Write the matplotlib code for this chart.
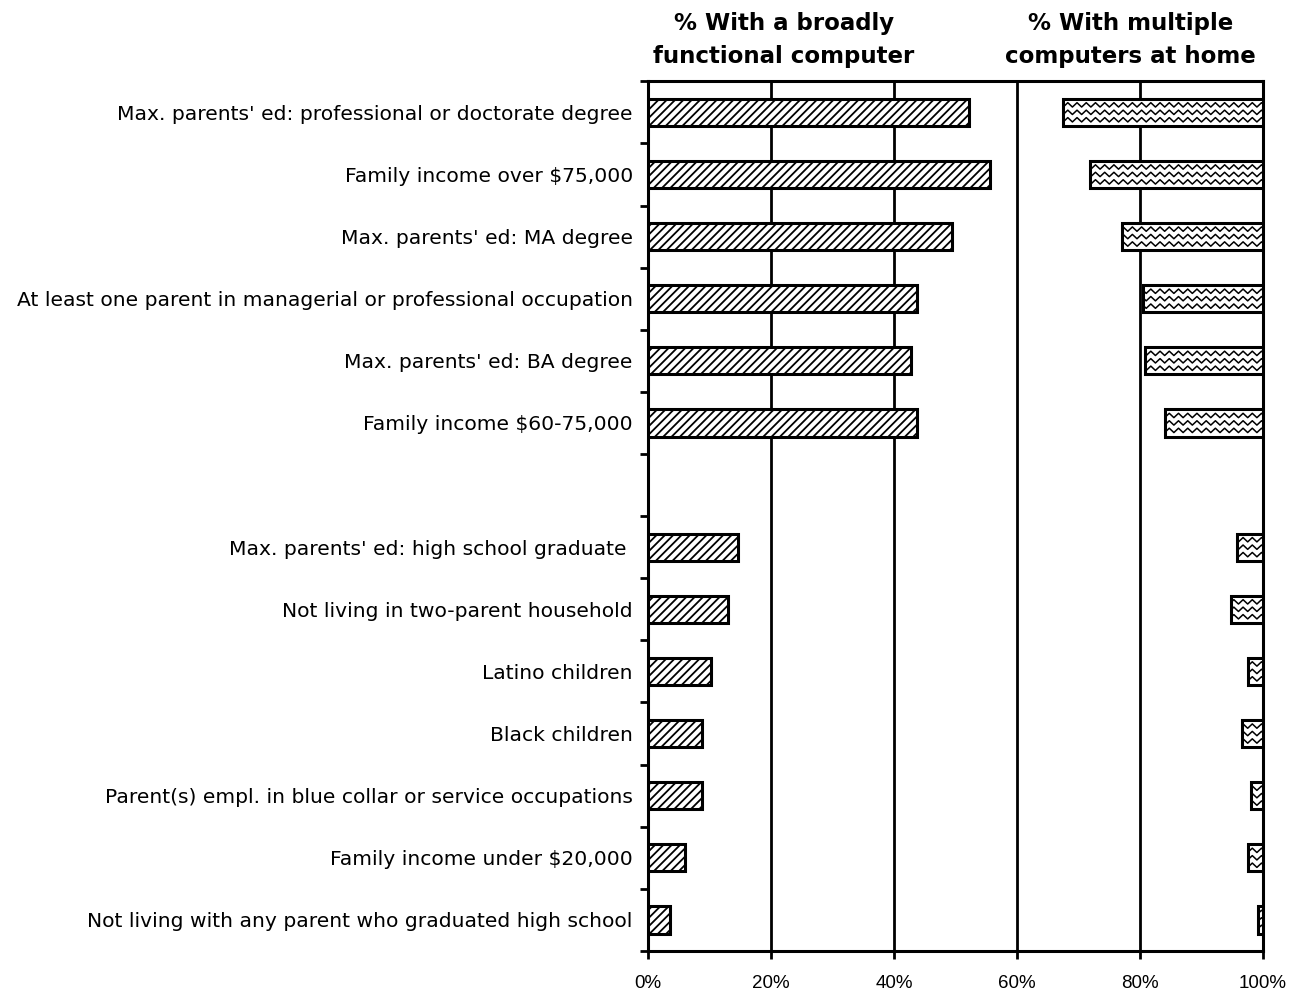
import numpy as np
import matplotlib
matplotlib.use('Agg')
import matplotlib.pyplot as plt

# categories, top group (high access) and bottom group (low access)
top_labels = [
    "Max. parents' ed: professional or doctorate degree",
    "Family income over $75,000",
    "Max. parents' ed: MA degree",
    "At least one parent in managerial or professional occupation",
    "Max. parents' ed: BA degree",
    "Family income $60-75,000",
]
bottom_labels = [
    "Max. parents' ed: high school graduate ",
    "Not living in two-parent household",
    "Latino children",
    "Black children",
    "Parent(s) empl. in blue collar or service occupations",
    "Family income under $20,000",
    "Not living with any parent who graduated high school",
]
# % with a broadly functional computer
functional_top = [52.2, 55.6, 49.4, 43.7, 42.8, 43.7]
functional_bottom = [14.6, 13.0, 10.2, 8.8, 8.8, 6.0, 3.6]
# % with multiple computers at home (drawn from the right edge)
multiple_top = [32.5, 28.1, 22.9, 19.5, 19.2, 15.9]
multiple_bottom = [4.2, 5.2, 2.4, 3.4, 2.0, 2.4, 0.8]

labels = top_labels + bottom_labels
functional = functional_top + functional_bottom
multiple = multiple_top + multiple_bottom
# leave an empty slot between the two groups
pos = list(range(len(top_labels))) + [len(top_labels) + 1 + i for i in range(len(bottom_labels))]
n_slots = len(top_labels) + 1 + len(bottom_labels)

plt.rcParams['font.family'] = ['Liberation Sans', 'DejaVu Sans']
plt.rcParams['hatch.linewidth'] = 1.3

fig = plt.figure(figsize=(13.04, 9.91), dpi=100)
ax = fig.add_axes([0.497, 0.0404, 0.9686 - 0.497, 0.918 - 0.0404])

bh = 0.44
for x in [20, 40, 60, 80]:
    ax.axvline(x, color='black', lw=2, zorder=1)

left_bars = ax.barh(pos, functional, height=bh, left=0, color='white',
                    edgecolor='black', hatch='////', lw=2.2, zorder=3)
right_bars = ax.barh(pos, multiple, height=bh, left=[100 - v for v in multiple],
                     color='white', edgecolor='black', lw=2.2, zorder=3)

# wavy fill for the right-hand bars
period = 1.5
for p, bar in zip(pos, right_bars):
    xs = np.arange(0, 100 + period, period / 2)
    for off in [-0.12, 0.0, 0.12]:
        ys = p + off + np.where(np.arange(len(xs)) % 2 == 0, 0.035, -0.035)
        ln, = ax.plot(xs, ys, color='black', lw=1.1, zorder=3.5)
        ln.set_clip_path(bar)

ax.set_xlim(0, 100)
ax.set_ylim(n_slots - 0.5, -0.5)
ax.set_xticks([0, 20, 40, 60, 80, 100])
ax.set_xticklabels(['0%', '20%', '40%', '60%', '80%', '100%'], fontsize=13.5)
ax.set_yticks(pos)
ax.set_yticklabels(labels, fontsize=14.6, family=['DejaVu Sans'])
ax.set_yticks(np.arange(-0.5, n_slots, 1), minor=True)
ax.tick_params(axis='y', which='major', length=0, pad=11)
ax.tick_params(axis='y', which='minor', length=6, width=2, direction='out')
ax.tick_params(axis='x', length=6, width=2, direction='out', pad=11)
for s in ax.spines.values():
    s.set_linewidth(2.2)

fig.text(0.601, 0.96, '% With a broadly\nfunctional computer', ha='center', va='center',
         fontsize=16.5, fontweight='bold', linespacing=1.55, family=['DejaVu Sans'])
fig.text(0.867, 0.96, '% With multiple\ncomputers at home', ha='center', va='center',
         fontsize=16.5, fontweight='bold', linespacing=1.55, family=['DejaVu Sans'])

fig.savefig('out.png', dpi=100)
